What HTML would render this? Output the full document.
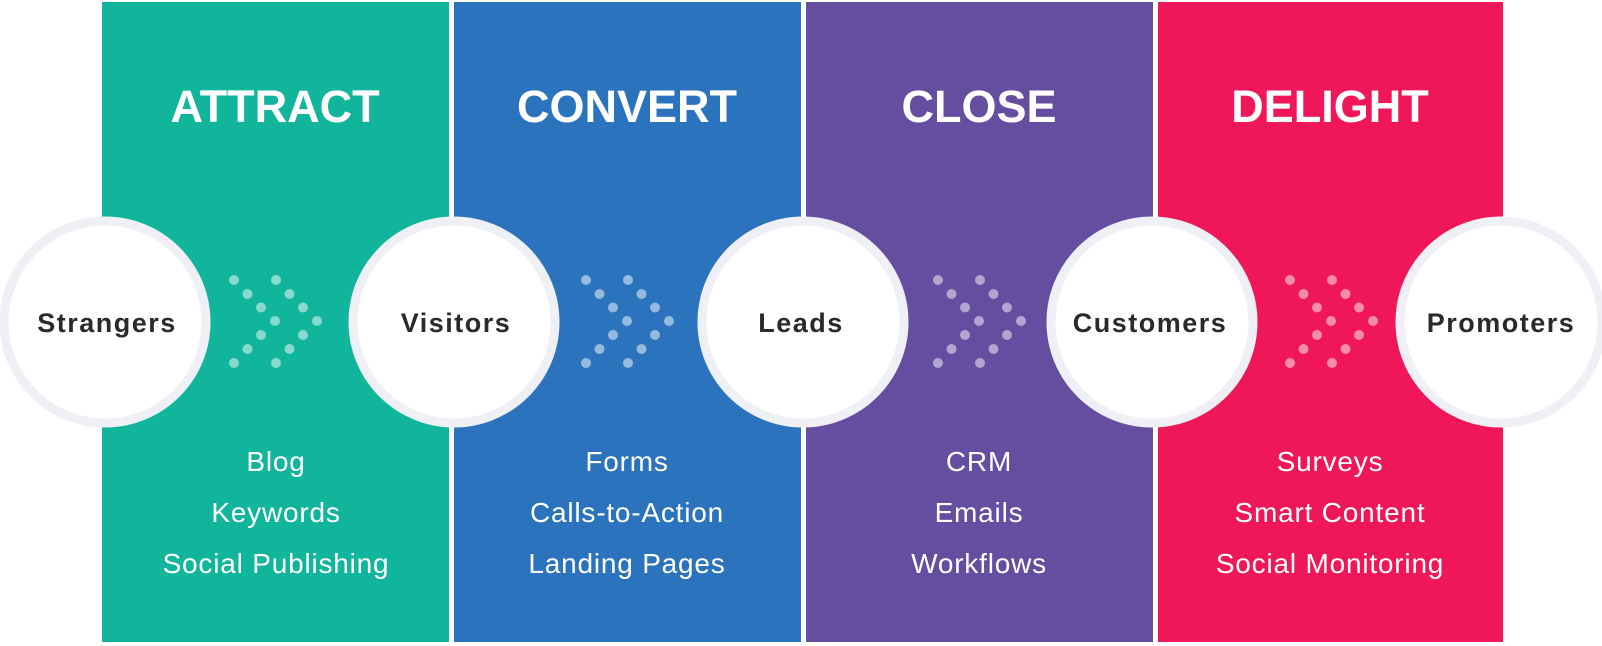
<!DOCTYPE html>
<html><head><meta charset="utf-8"><style>
html,body{margin:0;padding:0;background:#fff;}
svg{display:block}
text{font-family:"Liberation Sans",sans-serif;}
</style></head><body>
<svg width="1602" height="646" viewBox="0 0 1602 646" xmlns="http://www.w3.org/2000/svg">
<defs>
<g id="dots">
<circle cx="0" cy="0" r="5"/><circle cx="13.5" cy="14" r="5"/><circle cx="27" cy="27.5" r="5"/><circle cx="41" cy="41" r="5"/><circle cx="27" cy="55" r="5"/><circle cx="13.5" cy="69" r="5"/><circle cx="0" cy="83" r="5"/>
<circle cx="42" cy="0" r="5"/><circle cx="55.5" cy="14" r="5"/><circle cx="69" cy="27.5" r="5"/><circle cx="83" cy="41" r="5"/><circle cx="69" cy="55" r="5"/><circle cx="55.5" cy="69" r="5"/><circle cx="42" cy="83" r="5"/>
</g>
</defs>
<rect x="102" y="2" width="347" height="640" fill="#10b59c"/>
<rect x="454" y="2" width="347" height="640" fill="#2b74bd"/>
<rect x="806" y="2" width="347" height="640" fill="#654da0"/>
<rect x="1158" y="2" width="345" height="640" fill="#ef1659"/>
<g fill="#fff" font-weight="bold" font-size="45" text-anchor="middle">
<text x="275" y="122">ATTRACT</text>
<text x="627" y="122">CONVERT</text>
<text x="979" y="122">CLOSE</text>
<text x="1330" y="122">DELIGHT</text>
</g>
<g fill="#fff" fill-opacity="0.5">
<use href="#dots" x="234" y="280"/>
<use href="#dots" x="586" y="280"/>
<use href="#dots" x="938" y="280"/>
<use href="#dots" x="1290" y="280"/>
</g>
<g fill="#fff" stroke="#eef0f5" stroke-width="9">
<circle cx="105" cy="322" r="101"/>
<circle cx="454" cy="322" r="101"/>
<circle cx="803" cy="322" r="101"/>
<circle cx="1152" cy="322" r="101"/>
<circle cx="1501" cy="322" r="101"/>
</g>
<g fill="#2a2a2a" font-weight="bold" font-size="27" letter-spacing="1.5" text-anchor="middle">
<text x="107" y="332">Strangers</text>
<text x="456" y="332">Visitors</text>
<text x="801" y="332">Leads</text>
<text x="1150" y="332">Customers</text>
<text x="1501" y="332">Promoters</text>
</g>
<g fill="#fff" font-size="28" letter-spacing="0.8" text-anchor="middle">
<text x="276" y="471">Blog</text>
<text x="276" y="522">Keywords</text>
<text x="276" y="573">Social Publishing</text>
<text x="627" y="471">Forms</text>
<text x="627" y="522">Calls-to-Action</text>
<text x="627" y="573">Landing Pages</text>
<text x="979" y="471">CRM</text>
<text x="979" y="522">Emails</text>
<text x="979" y="573">Workflows</text>
<text x="1330" y="471">Surveys</text>
<text x="1330" y="522">Smart Content</text>
<text x="1330" y="573">Social Monitoring</text>
</g>
</svg>
</body></html>
